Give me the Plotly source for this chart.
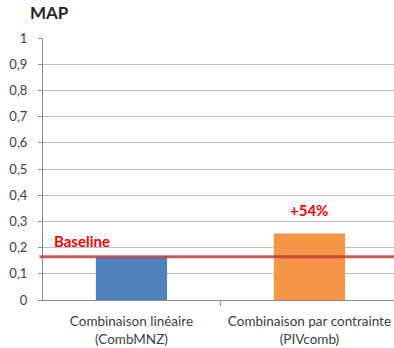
import plotly.graph_objects as go

categories = ["Combinaison linéaire<br>(CombMNZ)", "Combinaison par contrainte<br>(PIVcomb)"]
map_values = [0.165, 0.254]
bar_colors = ["#4F81BD", "#F79646"]
baseline = 0.165
gain_label = "+54%"
y_ticks = [0, 0.1, 0.2, 0.3, 0.4, 0.5, 0.6, 0.7, 0.8, 0.9, 1]
y_tick_text = ["0", "0,1", "0,2", "0,3", "0,4", "0,5", "0,6", "0,7", "0,8", "0,9", "1"]

font_family = "Lato, Liberation Sans, sans-serif"
text_gray = "#404040"

fig = go.Figure()
fig.add_trace(go.Bar(
    x=categories,
    y=map_values,
    marker=dict(color=bar_colors, line=dict(width=0)),
    width=0.4,
    showlegend=False,
))

# Red baseline across the plot
fig.add_shape(
    type="line", xref="paper", yref="y",
    x0=-0.01, x1=1, y0=baseline, y1=baseline,
    line=dict(color="rgba(192,60,60,0.85)", width=3),
    layer="above",
)

fig.add_annotation(
    text="<b>Baseline</b>", xref="paper", yref="y",
    x=0.025, y=0.225, xanchor="left", yanchor="middle",
    showarrow=False, font=dict(color="#FF0000", size=15, family=font_family),
)
fig.add_annotation(
    text="<b>" + gain_label + "</b>", xref="x", yref="y",
    x=categories[1], y=0.343, xanchor="center", yanchor="middle",
    showarrow=False, font=dict(color="#FF0000", size=15, family=font_family),
)
fig.add_annotation(
    text="<b>MAP</b>", xref="paper", yref="paper",
    x=-0.043, y=1.0, xanchor="left", yanchor="bottom", yshift=13,
    showarrow=False, font=dict(color="#262626", size=17, family=font_family),
)

fig.update_layout(
    width=394, height=348,
    margin=dict(l=43, r=0, t=38, b=48),
    paper_bgcolor="white", plot_bgcolor="white",
    font=dict(family=font_family, size=13, color=text_gray),
    bargap=0.6,
)
fig.update_xaxes(
    range=[-0.497, 1.475],
    showline=True, linecolor="#8c8c8c", linewidth=1,
    ticks="outside", tickson="boundaries", ticklen=5, tickcolor="#8c8c8c",
    showgrid=False, automargin=False,
    tickfont=dict(size=13.5, color=text_gray),
    ticklabelstandoff=9,
)
fig.update_yaxes(
    range=[0, 1], tickvals=y_ticks, ticktext=y_tick_text,
    showline=True, linecolor="#8c8c8c", linewidth=1,
    ticks="outside", ticklen=4, tickcolor="#8c8c8c",
    showgrid=True, gridcolor="#bfbfbf", gridwidth=1,
    zeroline=False, automargin=False,
    tickfont=dict(size=13, color=text_gray),
    ticklabelstandoff=8,
)

fig.write_html("out.html")
